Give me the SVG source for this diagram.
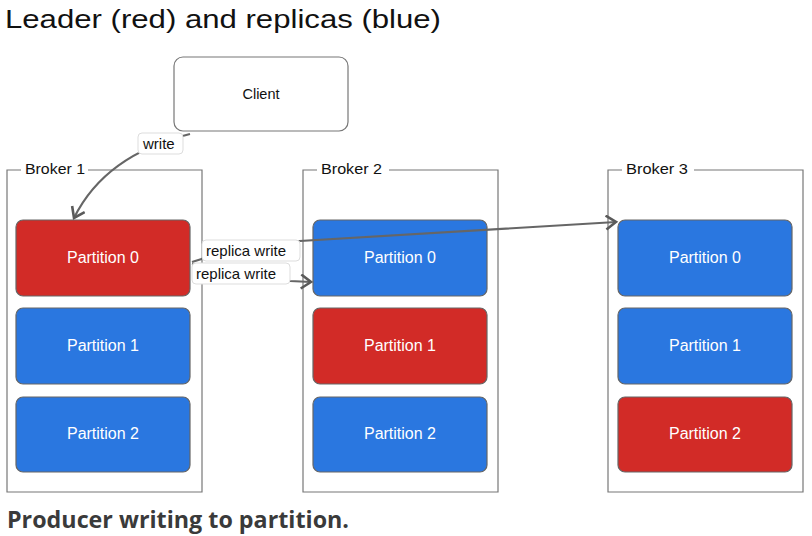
<svg xmlns="http://www.w3.org/2000/svg" width="812" height="536" viewBox="0 0 812 536">
<style>
.frame{fill:none;stroke:#777;stroke-width:1.2}
.lbl{font-family:"Liberation Sans",Arial,sans-serif;font-size:14.5px;fill:#111}
.part{stroke:#666;stroke-width:1.2}
.red{fill:#d22b27}
.blue{fill:#2a77e0}
.pt{font-family:"Liberation Sans",Arial,sans-serif;font-size:16px;fill:#fff;text-anchor:middle}
.conn{fill:none;stroke:#666;stroke-width:2.2}
.tag{fill:#fff;stroke:#ddd;stroke-width:1}
.tagt{font-family:"Liberation Sans",Arial,sans-serif;font-size:15px;fill:#111}
</style>
<defs>
<marker id="arr" markerUnits="userSpaceOnUse" markerWidth="16" markerHeight="18" refX="11" refY="8" orient="auto">
<path d="M1,1 L11,8 L1,15" fill="none" stroke="#5a5a5a" stroke-width="2.6"/>
</marker>
</defs>
<rect width="812" height="536" fill="#fff"/>
<text x="5" y="28" font-family="Liberation Sans,Arial,sans-serif" font-size="26" fill="#111" textLength="436" lengthAdjust="spacingAndGlyphs">Leader (red) and replicas (blue)</text>

<g id="client">
<rect x="174" y="57" width="174" height="74" rx="9" fill="#fff" stroke="#777" stroke-width="1.2"/>
<text x="261" y="99" class="lbl" text-anchor="middle" font-size="16">Client</text>
</g>

<g id="broker1">
<path class="frame" d="M21 170 H7 V492 H202 V170 H88"/>
<text x="25" y="174" class="lbl" textLength="60" lengthAdjust="spacingAndGlyphs">Broker 1</text>
<g id="b1p0"><rect class="part red" x="16" y="220" width="174" height="76" rx="7"/><text class="pt" x="103" y="263">Partition 0</text></g>
<g id="b1p1"><rect class="part blue" x="16" y="308" width="174" height="76" rx="7"/><text class="pt" x="103" y="351">Partition 1</text></g>
<g id="b1p2"><rect class="part blue" x="16" y="397" width="174" height="75" rx="7"/><text class="pt" x="103" y="439">Partition 2</text></g>
</g>

<g id="broker2">
<path class="frame" d="M317 170 H303 V492 H498 V170 H389"/>
<text x="321" y="174" class="lbl" textLength="61" lengthAdjust="spacingAndGlyphs">Broker 2</text>
<g id="b2p0"><rect class="part blue" x="313" y="220" width="174" height="76" rx="7"/><text class="pt" x="400" y="263">Partition 0</text></g>
<g id="b2p1"><rect class="part red" x="313" y="308" width="174" height="76" rx="7"/><text class="pt" x="400" y="351">Partition 1</text></g>
<g id="b2p2"><rect class="part blue" x="313" y="397" width="174" height="75" rx="7"/><text class="pt" x="400" y="439">Partition 2</text></g>
</g>

<g id="broker3">
<path class="frame" d="M622 170 H608 V492 H803 V170 H694"/>
<text x="626" y="174" class="lbl" textLength="62" lengthAdjust="spacingAndGlyphs">Broker 3</text>
<g id="b3p0"><rect class="part blue" x="618" y="220" width="174" height="76" rx="7"/><text class="pt" x="705" y="263">Partition 0</text></g>
<g id="b3p1"><rect class="part blue" x="618" y="308" width="174" height="76" rx="7"/><text class="pt" x="705" y="351">Partition 1</text></g>
<g id="b3p2"><rect class="part red" x="618" y="397" width="174" height="75" rx="7"/><text class="pt" x="705" y="439">Partition 2</text></g>
</g>

<g id="connectors">
<path class="conn" d="M190 134 Q105 155 74 218" marker-end="url(#arr)"/>
<path class="conn" d="M192 262 L250 244 L616 222" marker-end="url(#arr)"/>
<path class="conn" d="M192 264 L250 276 L290 281 L311 282" marker-end="url(#arr)"/>
<g id="lbl-write"><rect class="tag" x="138" y="133" width="45" height="21" rx="4"/><text class="tagt" x="143" y="149">write</text></g>
<g id="lbl-rw1"><rect class="tag" x="202" y="240" width="98" height="21" rx="4"/><text class="tagt" x="206" y="256">replica write</text></g>
<g id="lbl-rw2"><rect class="tag" x="192" y="263" width="98" height="21" rx="4"/><text class="tagt" x="196" y="279">replica write</text></g>
</g>

<text x="7" y="528" font-family="Open Sans,Liberation Sans,sans-serif" font-weight="bold" font-size="23" fill="#3a3a3a" textLength="342" lengthAdjust="spacingAndGlyphs">Producer writing to partition.</text>
</svg>
